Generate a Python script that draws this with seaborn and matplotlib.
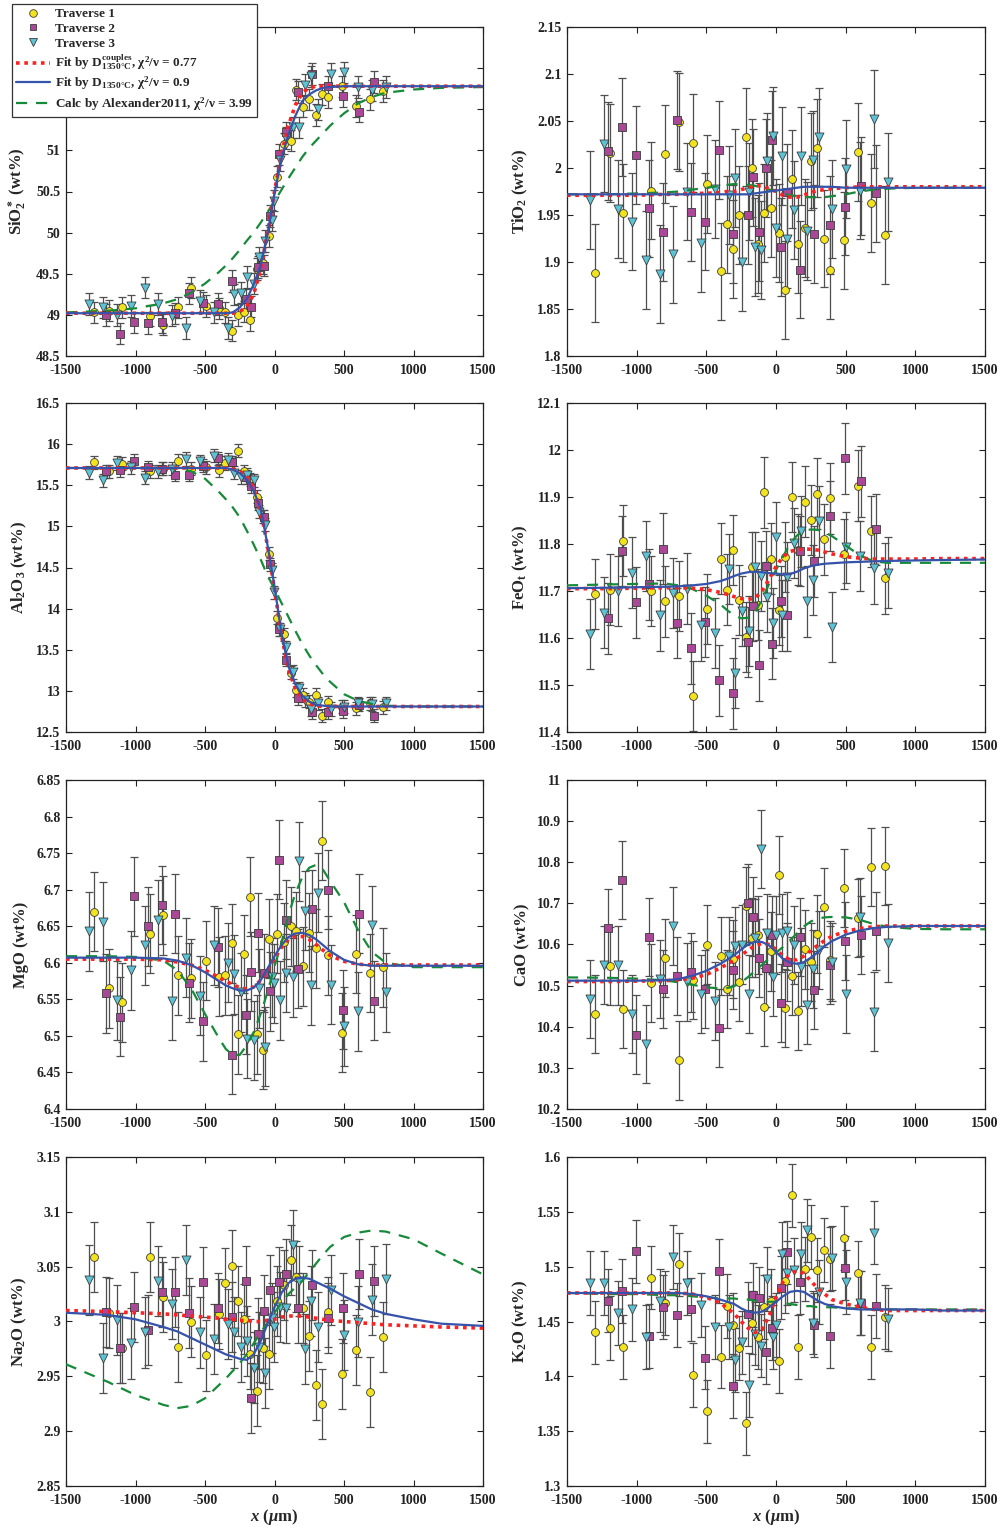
import matplotlib
matplotlib.use("Agg")
import matplotlib.pyplot as plt
from matplotlib.lines import Line2D
from matplotlib.ticker import MultipleLocator, FuncFormatter
import seaborn as sns

# ---------------------------------------------------------------- positions
# distance along each traverse (um)
X1 = [-1296, -1194, -1095, -898, -800, -697, -598, -496, -397, -353, -308, -263, -218, -174, -129,
      -85, -39, 19, 67, 116, 157, 206, 251, 297, 341, 387, 485, 585, 685, 783]
X2 = [-1209, -1108, -1008, -911, -811, -713, -612, -511, -409, -306, -204, -166, -119, -73, -30,
      33, 80, 171, 272, 388, 493, 608, 716]
X3 = [-1337, -1235, -1135, -1034, -934, -836, -737, -637, -535, -435, -335, -291, -244, -197, -151,
      -109, -66, -20, -2, 40, 82, 131, 178, 221, 265, 312, 404, 501, 601, 702, 802]
# model profiles are tabulated on this grid
XC = [-1500, -1200, -1000, -800, -700, -600, -500, -400, -350, -300, -250, -200, -150, -100, -50,
      0, 50, 100, 150, 200, 250, 300, 350, 400, 500, 600, 700, 800, 1000, 1200, 1500]

# ---------------------------------------------------------------- SiO2*
SIO2_T1 = [49.03, 49.05, 49.09, 48.99, 48.88, 49.09, 49.33, 49.11, 49.08, 49.03, 48.81, 49.00, 49.04,
           48.94, 49.56, 49.63, 49.96, 50.68, 51.08, 51.12, 51.74, 51.53, 51.62, 51.43, 51.68, 51.65,
           51.78, 51.54, 51.62, 51.72]
SIO2_T2 = [49.00, 48.77, 48.91, 48.90, 48.91, 49.02, 49.26, 49.15, 49.13, 49.41, 49.19, 49.10, 49.58,
           49.60, 50.20, 50.95, 51.22, 51.71, 51.93, 51.78, 51.66, 51.47, 51.83]
SIO2_T3 = [49.13, 49.09, 49.00, 49.11, 49.33, 49.13, 48.99, 48.84, 49.17, 49.03, 48.84, 49.25, 49.27,
           49.46, 49.38, 49.70, 49.90, 50.15, 50.39, 50.88, 51.15, 51.28, 51.28, 51.80, 51.90, 51.50,
           51.93, 51.95, 51.77, 51.73, 51.77]
SIO2_ERR = 0.13
SIO2_COUPLES = [49.02] * 10 + [49.04, 49.10, 49.25, 49.55, 50.00, 50.50, 50.95, 51.30, 51.55, 51.70,
                               51.76] + [51.78] * 10
SIO2_D1350 = [49.02] * 9 + [49.03, 49.09, 49.19, 49.37, 49.60, 49.99, 50.48, 50.90, 51.19, 51.42, 51.60,
                            51.68, 51.73, 51.76, 51.77] + [51.78] * 7
SIO2_ALEX = [49.03, 49.05, 49.08, 49.14, 49.19, 49.27, 49.38, 49.52, 49.60, 49.69, 49.79, 49.90, 50.00,
             50.12, 50.25, 50.38, 50.52, 50.66, 50.79, 50.92, 51.03, 51.12, 51.21, 51.30, 51.45, 51.57,
             51.65, 51.70, 51.74, 51.76, 51.77]

# ---------------------------------------------------------------- TiO2
TIO2_T1 = [1.888, 2.016, 1.952, 1.976, 2.015, 2.049, 2.027, 1.983, 1.890, 1.940, 1.914, 1.950, 2.033,
           2.000, 1.919, 1.952, 1.957, 1.931, 1.870, 1.988, 1.919, 1.936, 2.007, 2.021, 1.925, 1.891,
           1.923, 2.017, 1.963, 1.929]
TIO2_T2 = [2.018, 2.044, 2.014, 1.957, 1.932, 2.051, 1.953, 1.943, 2.019, 1.930, 1.950, 1.990, 1.932,
           2.000, 2.030, 1.916, 1.974, 1.892, 1.930, 1.939, 1.959, 1.981, 1.973]
TIO2_T3 = [1.966, 2.026, 1.956, 1.943, 1.902, 1.887, 1.908, 1.975, 1.920, 1.978, 1.971, 1.989, 1.900,
           1.975, 1.916, 1.913, 2.007, 2.034, 1.936, 2.013, 1.924, 1.955, 2.013, 1.933, 2.009, 2.033,
           1.956, 1.999, 1.976, 2.052, 1.985]
TIO2_ERR = 0.052
TIO2_COUPLES = [1.971, 1.971, 1.971, 1.972, 1.972, 1.973, 1.973, 1.974, 1.975, 1.975, 1.977, 1.979,
                1.981, 1.981, 1.978, 1.975, 1.971, 1.969, 1.969, 1.971, 1.974, 1.976, 1.977, 1.978,
                1.979, 1.980, 1.980, 1.980, 1.980, 1.980, 1.980]
TIO2_D1350 = [1.972] * 12 + [1.973, 1.974, 1.975, 1.976, 1.977, 1.978, 1.979, 1.980, 1.980, 1.980,
                             1.980, 1.980] + [1.979] * 7
TIO2_ALEX = [1.972, 1.972, 1.973, 1.974, 1.975, 1.977, 1.979, 1.981, 1.982, 1.983, 1.983, 1.982, 1.981,
             1.979, 1.977, 1.975, 1.973, 1.971, 1.970, 1.969, 1.969, 1.969, 1.969, 1.970, 1.972, 1.975,
             1.977, 1.978, 1.979, 1.979, 1.979]

# ---------------------------------------------------------------- Al2O3
AL2O3_T1 = [15.78, 15.67, 15.76, 15.67, 15.70, 15.80, 15.70, 15.72, 15.68, 15.77, 15.78, 15.92, 15.67,
            15.57, 15.36, 15.12, 14.67, 13.89, 13.69, 13.22, 13.01, 12.95, 12.87, 12.95, 12.70, 12.86,
            12.81, 12.79, 12.85, 12.80]
AL2O3_T2 = [15.67, 15.68, 15.80, 15.72, 15.70, 15.63, 15.63, 15.74, 15.83, 15.78, 15.60, 15.49, 15.28,
            15.12, 14.54, 13.75, 13.38, 12.91, 12.74, 12.74, 12.75, 12.83, 12.70]
AL2O3_T3 = [15.65, 15.56, 15.77, 15.72, 15.59, 15.67, 15.70, 15.82, 15.79, 15.86, 15.81, 15.65, 15.60,
            15.63, 15.56, 15.18, 15.02, 14.47, 14.20, 13.75, 13.53, 13.23, 13.03, 12.89, 12.78, 12.85,
            12.78, 12.81, 12.85, 12.84, 12.85]
AL2O3_ERR = 0.08
AL2O3_COUPLES = [15.71] * 9 + [15.70, 15.67, 15.61, 15.46, 15.20, 14.76, 14.24, 13.68, 13.26, 13.03,
                               12.90, 12.84, 12.82, 12.81] + [12.81] * 8
AL2O3_D1350 = [15.71] * 9 + [15.69, 15.65, 15.57, 15.43, 15.22, 14.77, 14.27, 13.70, 13.30, 13.08,
                             12.94, 12.87, 12.83, 12.82] + [12.81] * 8
AL2O3_ALEX = [15.71, 15.71, 15.71, 15.71, 15.70, 15.67, 15.58, 15.42, 15.33, 15.23, 15.11, 14.95, 14.78,
              14.60, 14.40, 14.24, 14.07, 13.90, 13.73, 13.57, 13.43, 13.31, 13.20, 13.11, 12.96, 12.88,
              12.84, 12.82, 12.81, 12.81, 12.81]

# ---------------------------------------------------------------- FeOt
FEO_T1 = [11.694, 11.703, 11.807, 11.700, 11.678, 11.689, 11.477, 11.662, 11.769, 11.703, 11.787,
          11.681, 11.602, 11.751, 11.671, 11.910, 11.769, 11.660, 11.772, 11.900, 11.788, 11.890,
          11.851, 11.907, 11.810, 11.897, 11.779, 11.924, 11.827, 11.727]
FEO_T2 = [11.642, 11.785, 11.676, 11.714, 11.790, 11.632, 11.578, 11.634, 11.510, 11.482, 11.591,
          11.669, 11.542, 11.753, 11.588, 11.678, 11.648, 11.785, 11.763, 11.860, 11.982, 11.933, 11.831]
FEO_T3 = [11.609, 11.654, 11.700, 11.739, 11.774, 11.648, 11.696, 11.705, 11.627, 11.611, 11.747,
          11.526, 11.657, 11.615, 11.751, 11.732, 11.687, 11.632, 11.814, 11.648, 11.730, 11.802,
          11.827, 11.678, 11.723, 11.848, 11.623, 11.793, 11.774, 11.748, 11.739]
FEO_ERR = 0.075
FEO_COUPLES = [11.705, 11.705, 11.706, 11.707, 11.707, 11.706, 11.703, 11.697, 11.693, 11.688, 11.684,
               11.682, 11.685, 11.700, 11.725, 11.752, 11.773, 11.784, 11.788, 11.789, 11.789, 11.787,
               11.783, 11.779, 11.773, 11.770, 11.768, 11.768, 11.768, 11.769, 11.769]
FEO_D1350 = [11.706, 11.707, 11.708, 11.709, 11.710, 11.712, 11.715, 11.721, 11.726, 11.732, 11.737,
             11.740, 11.741, 11.740, 11.738, 11.737, 11.735, 11.736, 11.741, 11.748, 11.753, 11.756,
             11.758, 11.759, 11.761, 11.762, 11.763, 11.764, 11.765, 11.766, 11.767]
FEO_ALEX = [11.712, 11.714, 11.715, 11.716, 11.712, 11.704, 11.690, 11.672, 11.659, 11.648, 11.642,
            11.643, 11.655, 11.682, 11.715, 11.745, 11.773, 11.800, 11.818, 11.828, 11.831, 11.830,
            11.825, 11.817, 11.797, 11.776, 11.763, 11.760, 11.760, 11.760, 11.760]

# ---------------------------------------------------------------- MgO
MGO_T1 = [6.670, 6.565, 6.546, 6.640, 6.665, 6.583, 6.579, 6.603, 6.581, 6.583, 6.627, 6.502, 6.612,
          6.690, 6.502, 6.481, 6.633, 6.640, 6.628, 6.650, 6.643, 6.595, 6.641, 6.620, 6.767, 6.610,
          6.504, 6.612, 6.586, 6.594]
MGO_T2 = [6.558, 6.526, 6.691, 6.650, 6.679, 6.667, 6.573, 6.520, 6.621, 6.474, 6.529, 6.588, 6.641,
          6.586, 6.561, 6.741, 6.659, 6.592, 6.673, 6.700, 6.536, 6.667, 6.548]
MGO_T3 = [6.643, 6.656, 6.549, 6.590, 6.624, 6.659, 6.548, 6.607, 6.555, 6.624, 6.600, 6.584, 6.560,
          6.496, 6.494, 6.565, 6.485, 6.580, 6.572, 6.549, 6.586, 6.580, 6.739, 6.671, 6.569, 6.696,
          6.570, 6.513, 6.534, 6.651, 6.560]
MGO_ERR = 0.054
MGO_COUPLES = [6.605, 6.605, 6.605, 6.604, 6.601, 6.597, 6.590, 6.580, 6.575, 6.570, 6.566, 6.564,
               6.567, 6.576, 6.590, 6.606, 6.621, 6.632, 6.636, 6.636, 6.632, 6.625, 6.617, 6.610,
               6.602, 6.598, 6.597, 6.597, 6.597, 6.597, 6.597]
MGO_D1350 = [6.607, 6.607, 6.607, 6.606, 6.603, 6.597, 6.587, 6.575, 6.569, 6.565, 6.562, 6.562, 6.566,
             6.576, 6.592, 6.609, 6.624, 6.635, 6.640, 6.641, 6.638, 6.632, 6.624, 6.616, 6.604, 6.598,
             6.596, 6.596, 6.596, 6.596, 6.596]
MGO_ALEX = [6.609, 6.609, 6.608, 6.603, 6.590, 6.565, 6.530, 6.497, 6.482, 6.474, 6.474, 6.487, 6.505,
            6.530, 6.560, 6.595, 6.627, 6.665, 6.695, 6.717, 6.730, 6.734, 6.727, 6.712, 6.683, 6.645,
            6.615, 6.600, 6.594, 6.594, 6.594]

# ---------------------------------------------------------------- CaO
CAO_T1 = [10.431, 10.547, 10.443, 10.506, 10.568, 10.318, 10.514, 10.600, 10.573, 10.492, 10.565,
          10.510, 10.693, 10.617, 10.624, 10.447, 10.583, 10.770, 10.445, 10.523, 10.438, 10.588,
          10.558, 10.626, 10.690, 10.562, 10.737, 10.664, 10.789, 10.791]
CAO_T2 = [10.640, 10.757, 10.381, 10.618, 10.492, 10.524, 10.532, 10.492, 10.397, 10.538, 10.701,
          10.668, 10.567, 10.542, 10.624, 10.458, 10.558, 10.619, 10.489, 10.550, 10.609, 10.624, 10.632]
CAO_T3 = [10.467, 10.551, 10.549, 10.431, 10.358, 10.516, 10.644, 10.508, 10.479, 10.463, 10.573,
          10.597, 10.600, 10.480, 10.616, 10.832, 10.628, 10.520, 10.624, 10.627, 10.633, 10.599,
          10.546, 10.454, 10.540, 10.587, 10.557, 10.480, 10.666, 10.437, 10.604]
CAO_ERR = 0.095
CAO_COUPLES = [10.510, 10.510, 10.511, 10.512, 10.514, 10.518, 10.527, 10.543, 10.552, 10.562, 10.574,
               10.586, 10.597, 10.603, 10.600, 10.588, 10.572, 10.563, 10.563, 10.572, 10.585, 10.598,
               10.610, 10.620, 10.632, 10.639, 10.643, 10.645, 10.645, 10.645, 10.645]
CAO_D1350 = [10.512, 10.512, 10.512, 10.513, 10.516, 10.524, 10.536, 10.553, 10.563, 10.574, 10.588,
             10.600, 10.607, 10.606, 10.598, 10.582, 10.565, 10.556, 10.553, 10.557, 10.568, 10.581,
             10.596, 10.608, 10.624, 10.634, 10.640, 10.643, 10.645, 10.645, 10.645]
CAO_ALEX = [10.520, 10.519, 10.517, 10.513, 10.508, 10.502, 10.496, 10.493, 10.494, 10.499, 10.508,
            10.521, 10.536, 10.551, 10.566, 10.580, 10.594, 10.610, 10.627, 10.644, 10.656, 10.663,
            10.666, 10.667, 10.666, 10.660, 10.650, 10.643, 10.638, 10.637, 10.637]

# ---------------------------------------------------------------- Na2O
NA2O_T1 = [3.059, 3.008, 2.976, 3.059, 3.022, 2.977, 3.000, 2.969, 3.007, 3.035, 3.051, 3.019, 3.002,
           2.970, 2.937, 2.976, 2.970, 3.019, 3.033, 3.056, 3.041, 3.012, 2.987, 2.942, 2.925, 3.009,
           2.952, 2.974, 2.936, 2.986]
NA2O_T2 = [3.009, 2.976, 3.013, 2.992, 3.027, 3.027, 3.008, 3.036, 3.012, 3.004, 3.037, 2.930, 2.989,
           3.010, 3.029, 3.036, 3.043, 3.012, 3.033, 3.003, 3.012, 3.043, 3.037]
NA2O_T3 = [3.038, 2.967, 3.001, 2.980, 2.990, 3.037, 3.016, 3.056, 2.990, 2.984, 2.998, 2.990, 2.977,
           2.982, 2.958, 2.977, 2.953, 3.003, 2.995, 3.013, 3.012, 3.070, 3.037, 2.975, 3.019, 2.995,
           3.029, 2.988, 3.000, 3.020, 3.039]
NA2O_ERR = 0.032
NA2O_COUPLES = [3.010, 3.009, 3.008, 3.007, 3.006, 3.005, 3.004, 3.003, 3.002, 3.002, 3.001, 3.001,
                3.000, 3.000, 3.001, 3.002, 3.004, 3.005, 3.005, 3.005, 3.004, 3.003, 3.002, 3.001,
                3.000, 2.999, 2.998, 2.997, 2.996, 2.995, 2.994]
NA2O_D1350 = [3.008, 3.006, 3.002, 2.995, 2.991, 2.985, 2.979, 2.973, 2.970, 2.968, 2.966, 2.965,
              2.970, 2.982, 2.998, 3.013, 3.026, 3.035, 3.039, 3.040, 3.039, 3.036, 3.033, 3.030,
              3.023, 3.017, 3.011, 3.007, 3.002, 2.998, 2.996]
NA2O_ALEX = [2.961, 2.945, 2.933, 2.924, 2.921, 2.923, 2.930, 2.942, 2.948, 2.955, 2.962, 2.970, 2.980,
             2.990, 2.999, 3.008, 3.017, 3.025, 3.031, 3.037, 3.045, 3.053, 3.061, 3.068, 3.077, 3.081,
             3.083, 3.082, 3.075, 3.062, 3.043]

# ---------------------------------------------------------------- K2O
K2O_T1 = [1.440, 1.444, 1.427, 1.490, 1.467, 1.502, 1.401, 1.368, 1.418, 1.464, 1.447, 1.426, 1.357,
          1.449, 1.436, 1.463, 1.469, 1.414, 1.487, 1.565, 1.427, 1.498, 1.527, 1.497, 1.515, 1.507,
          1.526, 1.494, 1.427, 1.454]
K2O_T2 = [1.469, 1.478, 1.514, 1.437, 1.463, 1.456, 1.461, 1.417, 1.496, 1.391, 1.457, 1.474, 1.471,
          1.422, 1.444, 1.481, 1.513, 1.486, 1.447, 1.437, 1.499, 1.467, 1.464]
K2O_T3 = [1.485, 1.485, 1.458, 1.461, 1.436, 1.469, 1.509, 1.485, 1.465, 1.445, 1.445, 1.415, 1.431,
          1.392, 1.439, 1.428, 1.489, 1.436, 1.447, 1.512, 1.494, 1.497, 1.512, 1.533, 1.449, 1.477,
          1.508, 1.486, 1.467, 1.531, 1.452]
K2O_ERR = 0.029
K2O_COUPLES = [1.476, 1.476, 1.476, 1.476, 1.476, 1.475, 1.472, 1.467, 1.462, 1.457, 1.450, 1.444,
               1.440, 1.443, 1.455, 1.472, 1.486, 1.494, 1.496, 1.494, 1.487, 1.480, 1.475, 1.470,
               1.466, 1.463, 1.461, 1.460, 1.460, 1.460, 1.460]
K2O_D1350 = [1.476, 1.476, 1.476, 1.476, 1.476, 1.475, 1.473, 1.470, 1.468, 1.466, 1.462, 1.459, 1.458,
             1.459, 1.463, 1.468, 1.473, 1.477, 1.478, 1.477, 1.473, 1.469, 1.466, 1.464, 1.462, 1.461,
             1.461, 1.461, 1.461, 1.460, 1.460]
K2O_ALEX = [1.476, 1.475, 1.475, 1.474, 1.474, 1.473, 1.472, 1.471, 1.471, 1.471, 1.470, 1.470, 1.469,
            1.469, 1.468, 1.468, 1.467, 1.466, 1.465, 1.464, 1.464, 1.463, 1.463, 1.463, 1.462, 1.462,
            1.461, 1.461, 1.461, 1.461, 1.461]

LEGEND_LABELS = ["Traverse 1", "Traverse 2", "Traverse 3",
                 "Fit by D$^{couples}_{1350°C}$, $\\chi^2/\\nu$ = 0.77",
                 "Fit by D$_{1350°C}$, $\\chi^2/\\nu$ = 0.9",
                 "Calc by Alexander2011, $\\chi^2/\\nu$ = 3.99"]

# ---------------------------------------------------------------- style
sns.set_style("ticks")
plt.rcParams["font.family"] = ["Liberation Serif", "DejaVu Serif"]
plt.rcParams["font.weight"] = "bold"
plt.rcParams["axes.labelweight"] = "bold"
plt.rcParams["mathtext.fontset"] = "custom"
plt.rcParams["mathtext.rm"] = "Liberation Serif:bold"
plt.rcParams["mathtext.it"] = "Liberation Serif:italic:bold"
plt.rcParams["mathtext.bf"] = "Liberation Serif:bold"
plt.rcParams["mathtext.default"] = "regular"

C_YEL, C_PUR, C_CYA = "#f2e31c", "#aa4796", "#5cc2d5"
C_EDGE = "#3c3c3c"
C_RED, C_BLUE, C_GREEN = "#ff2121", "#3553aa", "#178a3a"
C_ERR = "#4f4f4f"

panels = [
    dict(t=(SIO2_T1, SIO2_T2, SIO2_T3), err=SIO2_ERR,
         fits=(SIO2_COUPLES, SIO2_D1350, SIO2_ALEX), ylim=(48.5, 52.5), step=0.5,
         label="SiO$_2^*$ (wt%)", label_max=51.0),
    dict(t=(TIO2_T1, TIO2_T2, TIO2_T3), err=TIO2_ERR,
         fits=(TIO2_COUPLES, TIO2_D1350, TIO2_ALEX), ylim=(1.8, 2.15), step=0.05,
         label="TiO$_2$ (wt%)"),
    dict(t=(AL2O3_T1, AL2O3_T2, AL2O3_T3), err=AL2O3_ERR,
         fits=(AL2O3_COUPLES, AL2O3_D1350, AL2O3_ALEX), ylim=(12.5, 16.5), step=0.5,
         label="Al$_2$O$_3$ (wt%)"),
    dict(t=(FEO_T1, FEO_T2, FEO_T3), err=FEO_ERR,
         fits=(FEO_COUPLES, FEO_D1350, FEO_ALEX), ylim=(11.4, 12.1), step=0.1,
         label="FeO$_t$ (wt%)"),
    dict(t=(MGO_T1, MGO_T2, MGO_T3), err=MGO_ERR,
         fits=(MGO_COUPLES, MGO_D1350, MGO_ALEX), ylim=(6.4, 6.85), step=0.05,
         label="MgO (wt%)"),
    dict(t=(CAO_T1, CAO_T2, CAO_T3), err=CAO_ERR,
         fits=(CAO_COUPLES, CAO_D1350, CAO_ALEX), ylim=(10.2, 11.0), step=0.1,
         label="CaO (wt%)"),
    dict(t=(NA2O_T1, NA2O_T2, NA2O_T3), err=NA2O_ERR,
         fits=(NA2O_COUPLES, NA2O_D1350, NA2O_ALEX), ylim=(2.85, 3.15), step=0.05,
         label="Na$_2$O (wt%)"),
    dict(t=(K2O_T1, K2O_T2, K2O_T3), err=K2O_ERR,
         fits=(K2O_COUPLES, K2O_D1350, K2O_ALEX), ylim=(1.3, 1.6), step=0.05,
         label="K$_2$O (wt%)"),
]

W, H = 1003, 1527
fig = plt.figure(figsize=(W / 100, H / 100), dpi=100)
fig.patch.set_facecolor("white")

col_left = [66, 567]
col_width = [417, 418]
row_top = [27, 403, 780, 1157]
row_height = 329

xs = (X1, X2, X3)
marker_kw = [dict(marker="o", s=32, color=C_YEL),
             dict(marker="s", s=27, color=C_PUR),
             dict(marker="v", s=42, color=C_CYA)]


def tick_text(limit):
    def fmt(v, _):
        if limit is not None and v > limit + 1e-9:
            return ""
        return f"{round(v, 4):g}"
    return fmt


for i, p in enumerate(panels):
    r, c = divmod(i, 2)
    ax = fig.add_axes([col_left[c] / W, 1 - (row_top[r] + row_height) / H,
                       col_width[c] / W, row_height / H])
    # error bars first, then the symbols for each traverse
    for x, y in zip(xs, p["t"]):
        ax.errorbar(x, y, yerr=p["err"], fmt="none", ecolor=C_ERR, elinewidth=0.9,
                    capsize=2.6, capthick=0.9, zorder=2)
    for x, y, mk in zip(xs, p["t"], marker_kw):
        sns.scatterplot(x=x, y=y, ax=ax, edgecolor=C_EDGE, linewidth=0.6, zorder=3,
                        legend=False, **mk)
    # diffusion model profiles
    f_couples, f_d, f_alex = p["fits"]
    sns.lineplot(x=XC, y=f_alex, ax=ax, color=C_GREEN, lw=1.6, linestyle=(0, (5, 4)),
                 estimator=None, sort=False, zorder=4)
    sns.lineplot(x=XC, y=f_couples, ax=ax, color=C_RED, lw=2.6, linestyle=(0, (1, 1.3)),
                 estimator=None, sort=False, zorder=5)
    sns.lineplot(x=XC, y=f_d, ax=ax, color=C_BLUE, lw=1.6, estimator=None, sort=False, zorder=6)

    ax.set_xlim(-1500, 1500)
    ax.set_ylim(*p["ylim"])
    ax.xaxis.set_major_locator(MultipleLocator(500))
    ax.yaxis.set_major_locator(MultipleLocator(p["step"]))
    ax.xaxis.set_major_formatter(FuncFormatter(tick_text(None)))
    ax.yaxis.set_major_formatter(FuncFormatter(tick_text(p.get("label_max"))))
    ax.tick_params(direction="in", top=True, right=True, length=4, width=0.8,
                   labelsize=10, colors="#222222")
    ax.tick_params(axis="x", pad=6)
    ax.tick_params(axis="y", pad=4)
    for s in ax.spines.values():
        s.set_linewidth(0.9)
        s.set_color("#222222")
    ax.set_ylabel(p["label"], fontsize=12, fontweight="bold", labelpad=5)
    if r == 3:
        ax.set_xlabel("$\\mathit{x}$ ($\\mathit{\\mu}$m)", fontsize=12, fontweight="bold", labelpad=0)
    else:
        ax.set_xlabel("")

handles = [
    Line2D([], [], ls="none", marker="o", ms=5.5, mfc=C_YEL, mec=C_EDGE, mew=0.6),
    Line2D([], [], ls="none", marker="s", ms=5, mfc=C_PUR, mec=C_EDGE, mew=0.6),
    Line2D([], [], ls="none", marker="v", ms=6, mfc=C_CYA, mec=C_EDGE, mew=0.6),
    Line2D([], [], color=C_RED, lw=2.6, ls=(0, (1, 1.3))),
    Line2D([], [], color=C_BLUE, lw=1.6),
    Line2D([], [], color=C_GREEN, lw=1.6, ls=(0, (5, 4))),
]
leg = fig.legend(handles, LEGEND_LABELS, loc="upper left",
                 bbox_to_anchor=(12 / W, 1 - 4 / H), bbox_transform=fig.transFigure,
                 frameon=True, fancybox=False, framealpha=1, edgecolor="#333333",
                 fontsize=9.5, handlelength=2.6, handletextpad=0.35, labelspacing=0.2,
                 borderpad=0.3, borderaxespad=0)
leg.get_frame().set_linewidth(0.9)

fig.savefig("out.png", dpi=100, facecolor="white")
